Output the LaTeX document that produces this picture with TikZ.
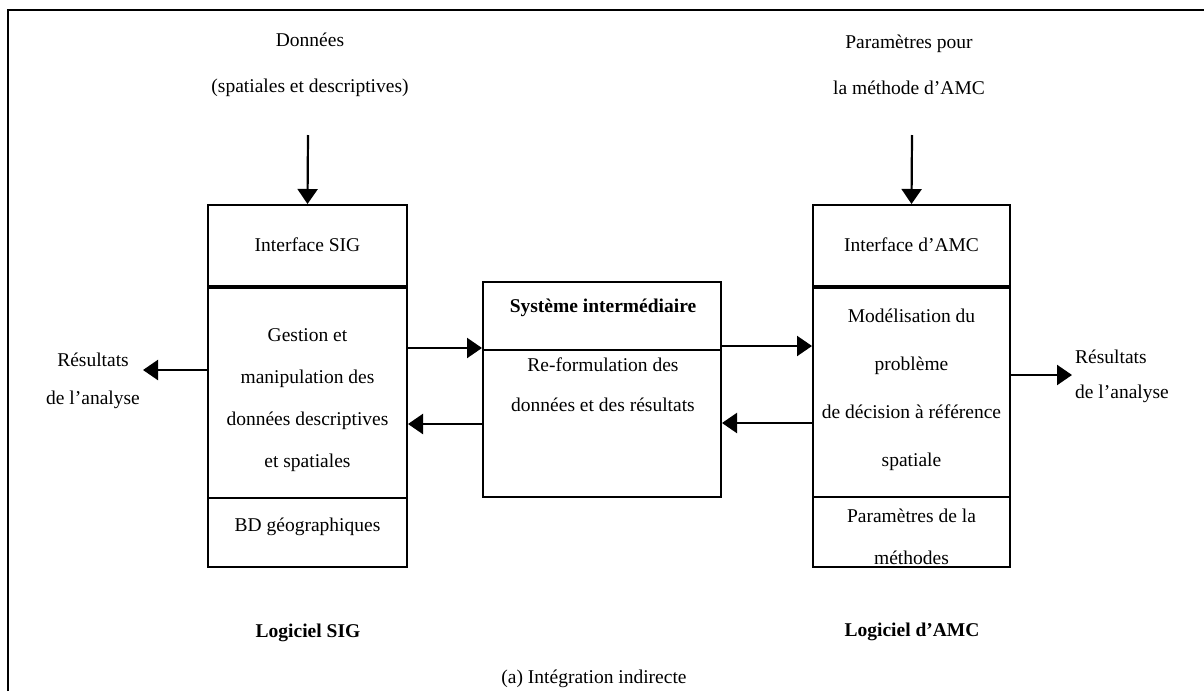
\documentclass[tikz,border=0pt]{standalone}
\usepackage{fontspec}
\setmainfont{Liberation Serif}
\usetikzlibrary{arrows.meta}
\begin{document}
\begin{tikzpicture}[x=1pt,y=-1pt,
  box/.style={draw, line width=2pt, inner sep=0pt},
  lbl/.style={inner sep=0pt, align=center, font=\fontsize{19.5}{23}\selectfont},
  blbl/.style={lbl, font=\fontsize{19.5}{23}\selectfont\bfseries},
  arr/.style={line width=2.2pt, -{Triangle[length=15pt,width=20pt]}},
  divthick/.style={line width=4pt},
  divthin/.style={line width=2.2pt},
  frame/.style={line width=2.6pt}
]
\useasboundingbox (0,0) rectangle (1204,691);
\fill[white] (0,0) rectangle (1204,691);
% outer frame (only left and top visible)
\draw[frame] (8,691) -- (8,10) -- (1204,10);

% boxes
\node[box, minimum width=199pt, minimum height=362pt] (L) at (307.5,386) {};
\node[box, minimum width=238pt, minimum height=215pt] (M) at (602,389.5) {};
\node[box, minimum width=197pt, minimum height=362pt] (R) at (911.5,386) {};

% dividers
\draw[divthick] (L.west |- 0,287) -- (L.east |- 0,287);
\draw[divthin] (L.west |- 0,498) -- (L.east |- 0,498);
\draw[divthin] (M.west |- 0,350) -- (M.east |- 0,350);
\draw[divthick] (R.west |- 0,287) -- (R.east |- 0,287);
\draw[divthin] (R.west |- 0,497) -- (R.east |- 0,497);

% top inputs
\node[lbl, font=\fontsize{19.5}{46}\selectfont] (don) at (310,65) {Données\\(spatiales et descriptives)};
\node[lbl, font=\fontsize{19.5}{46}\selectfont] (par) at (909,65) {Paramètres pour\\la méthode d’AMC};

% left box texts
\node[lbl] (isig) at (307.5,245) {Interface SIG};
\node[lbl, font=\fontsize{19.5}{42}\selectfont] (gest) at (307.5,400) {Gestion et\\manipulation des\\données descriptives\\et spatiales};
\node[lbl] (bdg) at (307.5,527) {BD géographiques};
\node[blbl] (lsig) at (308,633) {Logiciel SIG};

% middle box texts
\node[blbl] (sysi) at (603,308) {Système intermédiaire};
\node[lbl, font=\fontsize{19.5}{40}\selectfont] (refo) at (603,385) {Re-formulation des\\données et des résultats};

% right box texts
\node[lbl] (iamc) at (911.5,245) {Interface d’AMC};
\node[lbl, font=\fontsize{19.5}{48}\selectfont] (modl) at (911.5,390) {Modélisation du\\problème\\de décision à référence\\spatiale};
\node[lbl, font=\fontsize{19.5}{42}\selectfont] (parm) at (911.5,537) {Paramètres de la\\méthodes};
\node[blbl] (lamc) at (912,632) {Logiciel d’AMC};

% results
\node[lbl, font=\fontsize{19.5}{38}\selectfont] (resL) at (93,381) {Résultats\\de l’analyse};
\node[lbl, font=\fontsize{19.5}{35}\selectfont, align=left, anchor=west] (resR) at (1075,376) {Résultats\\de l’analyse};

% caption
\node[lbl] (cap) at (594,679) {(a) Intégration indirecte};

% connector helper coordinates
\coordinate (yA) at (0,348);
\coordinate (yB) at (0,424);
\coordinate (yC) at (0,346);
\coordinate (yD) at (0,423);
\coordinate (tipL) at (143,370);
\coordinate (tipR) at (1072,375);
\coordinate (srcD) at (308,135);
\coordinate (srcP) at (912,135);

% connectors
\draw[arr] (srcD) -- (L.north);
\draw[arr] (srcP) -- (R.north);
\draw[arr] (L.east |- yA) -- (M.west |- yA);
\draw[arr] (M.west |- yB) -- (L.east |- yB);
\draw[arr] (M.east |- yC) -- (R.west |- yC);
\draw[arr] (R.west |- yD) -- (M.east |- yD);
\draw[arr] (L.west |- tipL) -- (tipL);
\draw[arr] (R.east |- tipR) -- (tipR);
\end{tikzpicture}
\end{document}
